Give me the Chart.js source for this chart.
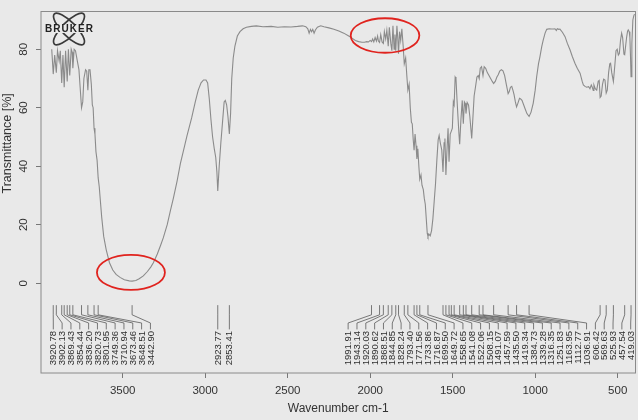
<!DOCTYPE html>
<html>
<head>
<meta charset="utf-8">
<script src="https://cdn.jsdelivr.net/npm/chart.js@4.4.1/dist/chart.umd.min.js"></script>
<style>
  html, body { margin: 0; padding: 0; background: #e9e9e9; }
  canvas { display: block; }
</style>
</head>
<body>
<canvas id="ftir" width="638" height="420"></canvas>
<script>
// spectrum (wavenumber cm-1 / transmittance %)
const wavenumbers = [
  3930, 3920.78, 3912, 3902.13, 3895, 3885, 3878, 3869.43, 3862, 3854.44, 3846, 3836.2, 3829, 3820.73, 3812, 3806, 3801.95, 3794, 3786, 3775, 3765,
  3749.36, 3742, 3735, 3725, 3718, 3710.94, 3705, 3698, 3690, 3684, 3679, 3673.46, 3668, 3662, 3655, 3648.51, 3642, 3635, 3627, 3615, 3600,
  3580, 3560, 3540, 3516, 3490, 3460, 3442.9, 3420, 3400, 3375, 3350, 3330, 3314, 3290, 3270, 3254, 3230, 3210, 3193, 3170, 3150, 3133, 3110,
  3082, 3060, 3042, 3025, 3010, 2995, 2985, 2975, 2965, 2955, 2945, 2936, 2929, 2923.77, 2915, 2905, 2895, 2885, 2878, 2870, 2862, 2853.41,
  2846, 2839, 2830, 2820, 2805, 2789, 2770, 2750, 2720, 2690, 2650, 2600, 2560, 2520, 2480, 2440, 2410, 2390, 2378, 2370, 2362, 2355, 2348,
  2340, 2332, 2320, 2300, 2280, 2250, 2220, 2190, 2160, 2130, 2110, 2090, 2070, 2050, 2035, 2020, 2010, 2000, 1991.91, 1985, 1978, 1970,
  1962, 1955, 1950, 1943.14, 1936, 1928, 1920.03, 1914, 1906, 1899, 1890.62, 1884, 1875, 1868.51, 1862, 1855, 1850, 1844.85, 1838, 1833,
  1828.24, 1822, 1815, 1808, 1800, 1793.4, 1785, 1778, 1771.56, 1764, 1757, 1750, 1745, 1739, 1733.86, 1728, 1722, 1716.87, 1711, 1705,
  1699.5, 1692, 1686, 1678, 1672, 1666, 1660, 1654, 1649.72, 1644, 1636, 1628, 1620, 1612, 1604, 1596, 1588, 1582, 1575, 1566, 1558.65,
  1552, 1547, 1541.08, 1535, 1528, 1522.06, 1515, 1508.15, 1502, 1496, 1491.07, 1485, 1480, 1474, 1468, 1462, 1457.59, 1450, 1442, 1435.5,
  1429, 1424, 1419.34, 1412, 1404, 1396, 1390, 1384.73, 1378, 1370, 1362, 1353, 1345, 1339.28, 1333, 1325, 1316.35, 1309, 1300, 1290, 1280,
  1270, 1260, 1251.83, 1242, 1232, 1224, 1215, 1205, 1195, 1185, 1175, 1168, 1163.95, 1157, 1150, 1142, 1135, 1128, 1120, 1112.77, 1105,
  1095, 1088, 1080, 1070, 1060, 1050, 1036.91, 1025, 1012, 1000, 991, 980, 971, 960, 951, 940, 930, 915, 900, 890, 880, 872, 866, 857, 850,
  835, 819, 805, 789, 775, 759, 745, 728, 715, 708, 698, 688, 676, 668, 660, 654, 648, 644, 636, 627, 618, 612, 606.42, 600, 592, 585, 577,
  569.63, 563, 555, 548, 543, 536, 525.93, 518, 510, 503, 496, 490, 483, 476, 470, 462, 457.54, 452, 446, 440, 436, 430, 426, 422, 419.03,
  414, 408, 402, 398
];
const transmittance = [
  80, 71.5, 78, 72, 79.5, 76, 79.5, 68.5, 78, 67, 79.5, 69, 80, 71, 80, 79, 73.5, 80, 79.5, 76, 73,
  60, 62, 70, 73, 72.5, 66, 73, 73, 68, 61, 60, 53, 51, 45, 42, 36, 33, 28, 22.5, 16, 11.5,
  7, 4.5, 3, 2, 1.2, 0.8, 0.7, 0.9, 1.5, 2.5, 4, 5.5, 7, 10, 13, 15.5, 20, 25, 29, 35, 41, 45, 50.5,
  56.5, 62, 66, 68.5, 69.5, 69.5, 68.5, 63, 56, 50, 46, 43, 38, 31.5, 40, 48, 55, 62, 62.5, 61, 57, 51,
  58, 70, 77, 81, 84.5, 86, 87, 87.5, 87.8, 88, 87.7, 87.8, 87.5, 87.7, 87.6, 87.8, 88, 87.7, 87, 85.5, 86.8, 86, 86.8,
  85.5, 86.6, 87.5, 88, 87.7, 87.3, 86.8, 86.2, 85.5, 84.5, 83.8, 83, 82.6, 82.4, 82.4, 82.6, 82.5, 83, 82.6, 83.5, 82.5, 84,
  82.8, 84.5, 82.8, 82.3, 85, 82.5, 82, 86, 83.5, 86.5, 81, 87.5, 82, 79.5, 88, 80, 85, 79.5, 88, 84,
  78.5, 86, 83, 87, 81, 75, 77, 71, 66, 68, 60, 55, 54.5, 49, 45.5, 51, 47, 42.5, 46, 40,
  35.5, 37, 33.5, 32, 29, 27, 22, 17, 16, 16.8, 16.2, 18, 22, 28, 34, 42, 49, 50.5, 48, 45.5, 38,
  48, 49.5, 37, 45, 53, 41.5, 51, 52, 53, 62, 61, 70.5, 70, 63, 57, 51, 47.5, 56, 62.5, 54.5,
  62, 61.5, 58, 61.8, 61, 57, 53, 49.5, 56, 64, 67, 70.5, 71, 70, 73.5, 74, 71, 74, 73.5, 72, 71,
  70, 69, 68.3, 69, 70.5, 71.3, 72.5, 73, 72.6, 71, 68, 66, 64.8, 65.5, 67, 67.3, 66, 64.5, 62, 60.3, 61.5,
  63.2, 63, 62.5, 61, 59.5, 58, 57, 58.5, 61.5, 66, 70.6, 75, 77.5, 81, 83.2, 85.5, 86.8, 87, 86.9, 86.9, 87, 86.4, 87, 86.8, 86.9,
  85.8, 84.3, 82, 79.8, 77.5, 75.2, 73.5, 71.8, 69, 67.8, 67.3, 67, 67.2, 66.5, 67.8, 67, 65.9, 67.8, 66.5, 66, 69, 69.3, 63.5, 64, 68, 69.8, 69.5,
  65, 66, 72, 75, 75.2, 72, 69, 74, 79.5, 80, 78, 78.5, 83, 85.5, 84, 78.3, 78.1, 81, 84, 86.2, 86.6, 86, 84, 77, 70.6,
  82, 90, 91.5, 92
];

// picked peaks (labels under the spectrum)
const peakLabels = [
  3920.78, 3902.13, 3869.43, 3854.44, 3836.20, 3820.73, 3801.95, 3749.36, 3710.94, 3673.46, 3648.51, 3442.90,
  2923.77, 2853.41,
  1991.91, 1943.14, 1920.03, 1890.62, 1868.51, 1844.85, 1828.24, 1793.40, 1771.56, 1733.86, 1716.87, 1699.50,
  1649.72, 1558.65, 1541.08, 1522.06, 1508.15, 1491.07, 1457.59, 1435.50, 1419.34, 1384.73, 1339.28, 1316.35,
  1251.83, 1163.95, 1112.77, 1036.91, 606.42, 569.63, 525.93, 457.54, 419.03
];

const xTicks = [3500, 3000, 2500, 2000, 1500, 1000, 500];
const yTicks = [0, 20, 40, 60, 80];

// red highlight rings: [centre wavenumber, centre %T, half width cm-1, half height %T]
const rings = [
  [3450, 3.7, 206, 6],
  [1910, 84.7, 208, 5.9]
];

const FONT = '"Liberation Sans", Arial, sans-serif';

const decorations = {
  id: 'decorations',
  beforeDraw(chart) {
    const { ctx } = chart;
    ctx.save();
    ctx.fillStyle = '#e9e9e9';
    ctx.fillRect(0, 0, chart.width, chart.height);
    ctx.restore();
  },
  afterDatasetsDraw(chart) {
    const { ctx, chartArea: a } = chart;
    const xs = chart.scales.x, ys = chart.scales.y;

    // frame
    ctx.save();
    ctx.strokeStyle = '#8a8a8a';
    ctx.lineWidth = 1;
    ctx.strokeRect(a.left, a.top, a.right - a.left, a.bottom - a.top);

    // y tick labels, rotated like the original
    ctx.fillStyle = '#333';
    ctx.font = '11.5px ' + FONT;
    ctx.textAlign = 'center';
    ctx.textBaseline = 'middle';
    yTicks.forEach(v => {
      ctx.save();
      ctx.translate(a.left - 17, ys.getPixelForValue(v));
      ctx.rotate(-Math.PI / 2);
      ctx.fillText(String(v), 0, 0);
      ctx.restore();
    });

    // axis titles
    ctx.font = '12.5px ' + FONT;
    ctx.save();
    ctx.translate(8, (ys.getPixelForValue(0) + a.top) / 2 - 4);
    ctx.rotate(-Math.PI / 2);
    ctx.fillText('Transmittance [%]', 0, 0);
    ctx.restore();
    ctx.font = '12px ' + FONT;
    ctx.fillText('Wavenumber cm-1', (a.left + a.right) / 2, 409);

    // peak labels: pushed right from their peak, then back left from the plot edge
    const gap = 8.83;
    const lo = a.left + 12.3, hi = a.right - 4.8;
    const px = peakLabels.map(p => xs.getPixelForValue(p));
    const labelX = [];
    px.forEach((p, i) => {
      labelX[i] = Math.max(p, lo, i ? labelX[i - 1] + gap : lo);
    });
    for (let i = labelX.length - 1; i >= 0; i--) {
      labelX[i] = Math.min(labelX[i], hi, i < labelX.length - 1 ? labelX[i + 1] - gap : hi);
    }

    const y0 = ys.getPixelForValue(-7.5);
    const y1 = ys.getPixelForValue(-10.8);
    const y2 = ys.getPixelForValue(-13.6);
    const y3 = ys.getPixelForValue(-15.8);
    ctx.strokeStyle = '#5a5a5a';
    ctx.lineWidth = 0.8;
    ctx.fillStyle = '#2e2e2e';
    ctx.font = '9.5px ' + FONT;
    ctx.textAlign = 'right';
    ctx.textBaseline = 'middle';
    peakLabels.forEach((p, i) => {
      const x0 = px[i], lx = labelX[i];
      ctx.beginPath();
      ctx.moveTo(x0, y0);
      ctx.lineTo(x0, y1);
      ctx.lineTo(lx, y2);
      ctx.lineTo(lx, y3);
      ctx.stroke();
      ctx.save();
      ctx.translate(lx, y3 + 1.5);
      ctx.rotate(-Math.PI / 2);
      ctx.fillText(p.toFixed(2), 0, 0.5);
      ctx.restore();
    });

    // red rings
    ctx.strokeStyle = '#e0231e';
    ctx.lineWidth = 1.8;
    rings.forEach(([w, t, dw, dt]) => {
      const cx = xs.getPixelForValue(w), cy = ys.getPixelForValue(t);
      const rx = Math.abs(xs.getPixelForValue(w - dw) - cx);
      const ry = Math.abs(ys.getPixelForValue(t - dt) - cy);
      ctx.beginPath();
      ctx.ellipse(cx, cy, rx, ry, 0, 0, Math.PI * 2);
      ctx.stroke();
    });

    // Bruker logo in the corner
    const lx0 = a.left + 28, ly0 = a.top + 17.5;
    ctx.strokeStyle = '#3a3a3a';
    ctx.lineWidth = 1.7;
    [0.8, -0.8].forEach(r => {
      ctx.beginPath();
      ctx.ellipse(lx0, ly0, 21, 7, r, 0, Math.PI * 2);
      ctx.stroke();
    });
    ctx.font = 'bold 10px ' + FONT;
    ctx.textAlign = 'center';
    ctx.letterSpacing = '1px';
    ctx.fillStyle = '#e9e9e9';
    ctx.fillRect(lx0 - 25, ly0 - 4, 50, 8);
    ctx.fillStyle = '#222';
    ctx.fillText('BRUKER', lx0 + 0.5, ly0 + 0.5);
    ctx.restore();
  }
};

new Chart(document.getElementById('ftir'), {
  type: 'line',
  data: {
    datasets: [{
      data: wavenumbers.map((w, i) => ({ x: w, y: transmittance[i] })),
      borderColor: '#8b8b8b',
      borderWidth: 1.1,
      pointRadius: 0,
      tension: 0
    }]
  },
  options: {
    responsive: false,
    animation: false,
    layout: { padding: { top: 11.5, right: 2.5, left: 0, bottom: 0 } },
    plugins: { legend: { display: false }, tooltip: { enabled: false } },
    scales: {
      x: {
        type: 'linear',
        reverse: true,
        min: 392,
        max: 3995,
        afterBuildTicks: s => { s.ticks = xTicks.map(v => ({ value: v })); },
        afterFit: s => { s.height = 47; },
        grid: { drawOnChartArea: false, tickLength: 5, color: '#777' },
        border: { display: false },
        ticks: {
          color: '#333', font: { size: 11.5, family: FONT }, padding: 6, maxRotation: 0, minRotation: 0,
          callback: v => String(v)
        }
      },
      y: {
        min: -30.7,
        max: 92.9,
        afterBuildTicks: s => { s.ticks = yTicks.map(v => ({ value: v })); },
        afterFit: s => { s.width = 41; },
        grid: { drawOnChartArea: false, tickLength: 5, color: '#777' },
        border: { display: false },
        ticks: { display: false }
      }
    }
  },
  plugins: [decorations]
});
</script>
</body>
</html>
